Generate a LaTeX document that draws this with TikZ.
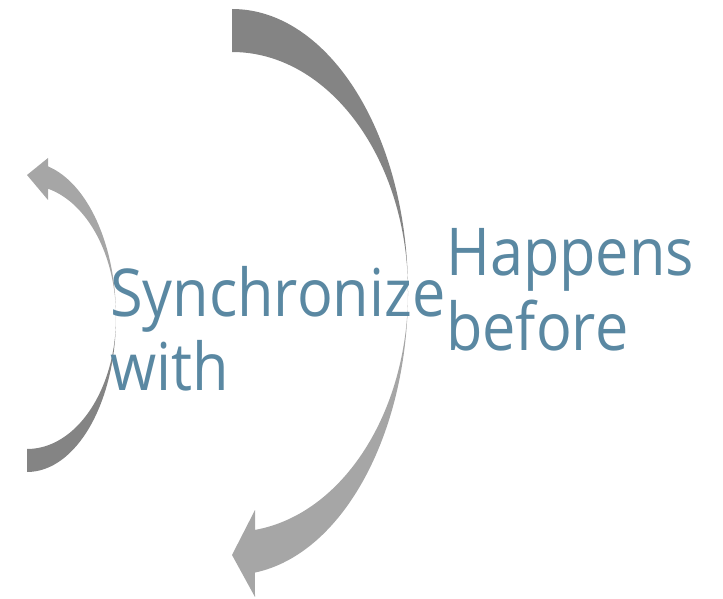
\documentclass[tikz,border=0pt]{standalone}
\usepackage{fontspec}
\setmainfont{Open Sans}[FakeStretch=0.9]
\usepackage{tikz}
\usetikzlibrary{arrows.meta,positioning,calc}
\usepackage{xcolor}
\definecolor{arcdark} {HTML}{848484}
\definecolor{arclight}{HTML}{A6A6A6}
\definecolor{steel}   {HTML}{5A88A2}

\tikzset{
  arcpart/.style={draw=none},
  label/.style={text=steel, font=\fontsize{66}{74}\selectfont,
    inner sep=0pt, align=left, anchor=base west}
}

\begin{document}
\begin{tikzpicture}[x=1pt,y=1pt]
        \useasboundingbox (0,0) rectangle (723,598);
        % big arc, upper half (tail)
        \fill[arcpart, arcdark] (232,589)
          arc[start angle=90, end angle=0, x radius=176, y radius=283]
          arc[start angle=0, end angle=90, x radius=176, y radius=240] -- cycle;
        % big arc, lower half (head)
        \fill[arcpart, arclight] (408,306)
          arc[start angle=0, end angle=-82.5, x radius=176, y radius=283]
          -- (255,1) -- (232,43) -- (255,88) -- (255,68.1)
          arc[start angle=-82.5, end angle=0, x radius=176, y radius=240] -- cycle;
        % small arc, upper half (head)
        \fill[arcpart, arclight] (116,281)
          arc[start angle=0, end angle=76.35, x radius=89, y radius=155]
          -- (48,440) -- (27,423) -- (48,398) -- (48,409.3)
          arc[start angle=76.35, end angle=0, x radius=89, y radius=132] -- cycle;
        % small arc, lower half (tail)
        \fill[arcpart, arcdark] (116,281)
          arc[start angle=0, end angle=-90, x radius=89, y radius=155]
          -- (27,149)
          arc[start angle=-90, end angle=0, x radius=89, y radius=132] -- cycle;
        % labels, anchored on the baseline of their last line
        \node[label] (sync) at (110,208) {Synchronize\\with};
        \node[label] (hb) at (446,248) {Happens\\before};
      \end{tikzpicture}
\end{document}
